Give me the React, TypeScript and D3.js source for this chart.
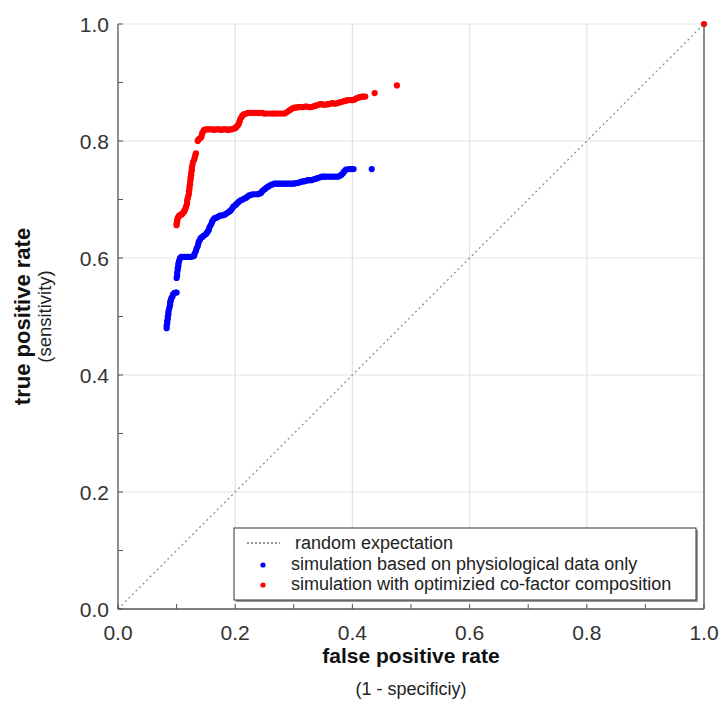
import React from "react";
import * as d3 from "d3";

const xTicks = [0, 0.2, 0.4, 0.6, 0.8, 1.0];
const yTicks = [0, 0.2, 0.4, 0.6, 0.8, 1.0];
const minorTicks = [0, 0.1, 0.2, 0.3, 0.4, 0.5, 0.6, 0.7, 0.8, 0.9, 1.0];

const bluePoints: [number, number][] = [
  [0.083,0.480],[0.083,0.484],[0.084,0.488],[0.084,0.492],[0.085,0.496],[0.085,0.500],[0.086,0.504],[0.086,0.508],[0.087,0.512],[0.088,0.516],
  [0.089,0.520],[0.089,0.524],[0.090,0.527],[0.091,0.531],[0.093,0.534],[0.094,0.538],[0.096,0.540],[0.098,0.541],[0.100,0.541],
  [0.100,0.566],[0.101,0.570],[0.101,0.575],[0.102,0.580],[0.102,0.583],[0.103,0.586],[0.103,0.590],[0.104,0.594],[0.105,0.597],[0.106,0.600],
  [0.108,0.602],[0.110,0.602],[0.113,0.602],[0.115,0.602],[0.118,0.602],[0.120,0.602],[0.123,0.602],[0.125,0.602],[0.128,0.603],
  [0.130,0.604],[0.131,0.608],[0.133,0.612],[0.134,0.616],[0.136,0.620],[0.137,0.624],[0.138,0.628],[0.140,0.631],[0.141,0.634],[0.144,0.636],
  [0.146,0.638],[0.149,0.640],[0.151,0.642],[0.153,0.645],[0.155,0.648],[0.156,0.652],[0.158,0.656],[0.160,0.660],[0.161,0.663],[0.163,0.666],
  [0.165,0.668],[0.168,0.669],[0.170,0.670],[0.173,0.672],[0.176,0.673],[0.179,0.673],[0.182,0.674],[0.185,0.676],[0.188,0.678],[0.191,0.680],
  [0.193,0.682],[0.195,0.685],[0.197,0.688],[0.200,0.690],[0.202,0.692],[0.205,0.695],[0.207,0.697],[0.210,0.699],[0.213,0.700],[0.216,0.702],
  [0.219,0.703],[0.221,0.705],[0.224,0.707],[0.227,0.708],[0.230,0.709],[0.234,0.709],[0.238,0.709],[0.241,0.710],[0.244,0.711],[0.246,0.714],
  [0.248,0.716],[0.251,0.718],[0.253,0.720],[0.256,0.722],[0.258,0.723],[0.261,0.725],[0.264,0.726],[0.267,0.727],[0.270,0.727],[0.273,0.727],
  [0.276,0.727],[0.279,0.727],[0.282,0.727],[0.285,0.727],[0.288,0.727],[0.291,0.727],[0.294,0.727],[0.297,0.727],[0.300,0.727],[0.303,0.728],
  [0.306,0.728],[0.309,0.729],[0.312,0.730],[0.315,0.731],[0.318,0.731],[0.321,0.732],[0.324,0.733],[0.327,0.733],[0.330,0.733],[0.333,0.734],
  [0.336,0.735],[0.339,0.736],[0.342,0.737],[0.345,0.738],[0.348,0.739],[0.351,0.739],[0.354,0.739],[0.358,0.739],[0.362,0.739],[0.366,0.739],
  [0.370,0.739],[0.375,0.739],[0.378,0.740],[0.381,0.742],[0.384,0.745],[0.386,0.748],[0.389,0.751],[0.394,0.752],[0.398,0.752],[0.402,0.752],
  [0.433,0.752]
];

const redPoints: [number, number][] = [
  [0.100,0.656],[0.100,0.659],[0.101,0.662],[0.101,0.665],[0.102,0.668],[0.103,0.670],[0.104,0.672],[0.106,0.673],[0.107,0.674],[0.109,0.675],
  [0.110,0.676],[0.112,0.678],[0.113,0.680],[0.114,0.682],[0.115,0.684],[0.116,0.687],[0.117,0.690],[0.118,0.694],[0.118,0.698],[0.119,0.702],
  [0.120,0.706],[0.121,0.710],[0.121,0.714],[0.122,0.718],[0.122,0.722],[0.123,0.726],[0.123,0.730],[0.124,0.734],[0.124,0.738],[0.125,0.742],
  [0.125,0.746],[0.126,0.750],[0.126,0.754],[0.127,0.759],[0.128,0.764],[0.130,0.768],[0.131,0.772],[0.132,0.776],[0.133,0.779],
  [0.136,0.800],[0.137,0.802],[0.139,0.804],[0.142,0.806],[0.143,0.810],[0.144,0.814],[0.146,0.817],[0.147,0.819],[0.150,0.820],[0.152,0.820],
  [0.155,0.820],[0.158,0.820],[0.161,0.820],[0.164,0.819],[0.167,0.820],[0.170,0.820],[0.173,0.820],[0.176,0.819],[0.179,0.820],[0.182,0.820],
  [0.185,0.820],[0.188,0.819],[0.191,0.820],[0.194,0.820],[0.197,0.821],[0.200,0.822],[0.202,0.824],[0.204,0.826],[0.206,0.829],[0.207,0.832],
  [0.208,0.835],[0.209,0.838],[0.211,0.841],[0.212,0.843],[0.214,0.845],[0.216,0.846],[0.219,0.847],[0.222,0.848],[0.225,0.848],[0.228,0.848],
  [0.232,0.848],[0.236,0.848],[0.241,0.848],[0.246,0.848],[0.249,0.847],[0.252,0.847],[0.257,0.847],[0.262,0.847],[0.265,0.847],[0.268,0.847],
  [0.272,0.847],[0.276,0.847],[0.280,0.847],[0.284,0.847],[0.288,0.849],[0.292,0.852],[0.295,0.854],[0.298,0.856],[0.301,0.857],[0.304,0.857],
  [0.307,0.858],[0.310,0.858],[0.313,0.858],[0.316,0.858],[0.319,0.859],[0.322,0.859],[0.326,0.858],[0.330,0.858],[0.333,0.859],[0.336,0.860],
  [0.339,0.861],[0.342,0.862],[0.345,0.863],[0.348,0.863],[0.351,0.862],[0.354,0.862],[0.357,0.863],[0.360,0.863],[0.363,0.864],[0.366,0.865],
  [0.369,0.864],[0.372,0.864],[0.375,0.865],[0.378,0.866],[0.382,0.867],[0.386,0.868],[0.389,0.869],[0.392,0.870],[0.395,0.870],[0.398,0.870],
  [0.401,0.870],[0.404,0.871],[0.407,0.873],[0.410,0.874],[0.413,0.875],[0.416,0.876],[0.419,0.876],[0.422,0.876],[0.438,0.882],[0.476,0.895],
  [1.0,1.0]
];

const legendLabels = [
  "random expectation",
  "simulation based on physiological data only",
  "simulation with optimizied co-factor composition",
];

const W = 723, H = 714;
const left = 118, right = 704, top = 24, bottom = 609;
const font = "Arial, 'Liberation Sans', sans-serif";

export default function App() {
  const x = d3.scaleLinear().domain([0, 1]).range([left, right]);
  const y = d3.scaleLinear().domain([0, 1]).range([bottom, top]);
  const diag = d3.line<[number, number]>().x(d => x(d[0])).y(d => y(d[1]));
  const lx = 234, ly = 528, lw = 462, lh = 72;
  const r = 3.1;
  return (
    <svg width={W} height={H} style={{ position: "absolute", left: 0, top: 0, background: "#fff" }} fontFamily={font}>
      {xTicks.filter(t => t > 0).map(t => (
        <line key={"gx" + t} x1={x(t)} x2={x(t)} y1={top} y2={bottom} stroke="#e3e3e3" strokeWidth={1.2} />
      ))}
      {yTicks.filter(t => t > 0).map(t => (
        <line key={"gy" + t} x1={left} x2={right} y1={y(t)} y2={y(t)} stroke="#e3e3e3" strokeWidth={1.2} />
      ))}
      <path d={diag([[0, 0], [1, 1]]) || ""} stroke="#888" strokeWidth={1.2} strokeDasharray="2,3" fill="none" />
      {bluePoints.map((p, i) => (
        <circle key={"b" + i} cx={x(p[0])} cy={y(p[1])} r={r} fill="#0000ff" />
      ))}
      {redPoints.map((p, i) => (
        <circle key={"r" + i} cx={x(p[0])} cy={y(p[1])} r={r} fill="#ff0000" />
      ))}
      <line x1={left} x2={left} y1={top} y2={bottom} stroke="#555" strokeWidth={1.3} />
      <line x1={left} x2={right} y1={bottom} y2={bottom} stroke="#555" strokeWidth={1.3} />
      <line x1={right} x2={right} y1={top} y2={bottom} stroke="#555" strokeWidth={1.3} />
      {minorTicks.map(t => (
        <line key={"tx" + t} x1={x(t)} x2={x(t)} y1={bottom} y2={bottom - 5} stroke="#555" strokeWidth={1} />
      ))}
      {minorTicks.map(t => (
        <line key={"ty" + t} x1={left} x2={left + 5} y1={y(t)} y2={y(t)} stroke="#555" strokeWidth={1} />
      ))}
      {xTicks.map(t => (
        <text key={"lx" + t} x={x(t)} y={bottom + 31} textAnchor="middle" fontSize={21} fill="#333">{t.toFixed(1)}</text>
      ))}
      {yTicks.map(t => (
        <text key={"ly" + t} x={left - 9} y={y(t) + 7.5} textAnchor="end" fontSize={21} fill="#333">{t.toFixed(1)}</text>
      ))}
      <text x={(left + right) / 2} y={663} textAnchor="middle" fontSize={21} fontWeight="bold" fill="#111">false positive rate</text>
      <text x={(left + right) / 2} y={695} textAnchor="middle" fontSize={18} fill="#222">(1 - specificiy)</text>
      <text transform={`translate(30,${(top + bottom) / 2}) rotate(-90)`} textAnchor="middle" fontSize={22} fontWeight="bold" fill="#111">true positive rate</text>
      <text transform={`translate(51,${(top + bottom) / 2}) rotate(-90)`} textAnchor="middle" fontSize={18.5} fill="#222">(sensitivity)</text>
      <rect x={lx + 2} y={ly + 2} width={lw} height={lh} fill="#999" />
      <rect x={lx} y={ly} width={lw} height={lh} fill="#fff" stroke="#333" strokeWidth={1} />
      <line x1={lx + 13} x2={lx + 46} y1={ly + 15} y2={ly + 15} stroke="#333" strokeWidth={1} strokeDasharray="2,2" />
      <circle cx={lx + 29} cy={ly + 37} r={2.6} fill="#0000ff" />
      <circle cx={lx + 29} cy={ly + 57} r={2.6} fill="#ff0000" />
      {legendLabels.map((s, i) => (
        <text key={s} x={lx + (i === 0 ? 61 : 57)} y={ly + 21 + i * 20.5} fontSize={18} fill="#222">{s}</text>
      ))}
    </svg>
  );
}
